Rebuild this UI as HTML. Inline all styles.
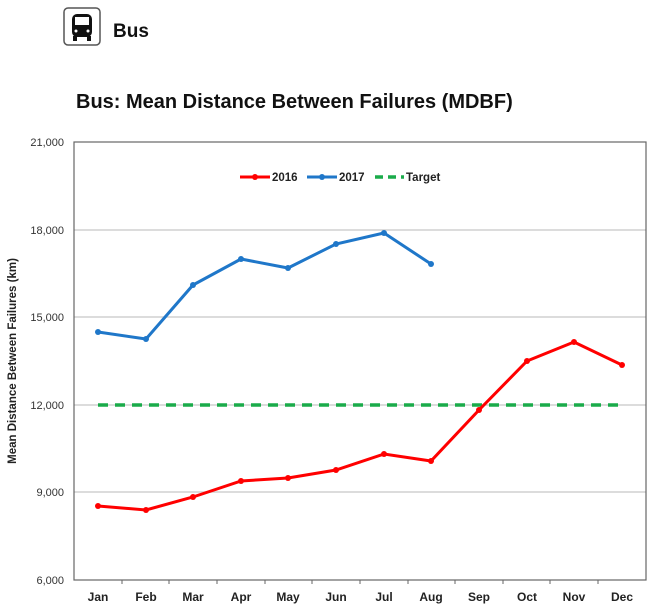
<!DOCTYPE html>
<html><head><style>
body{margin:0;background:#fff;width:654px;height:611px;overflow:hidden;font-family:"Liberation Sans",Arial,sans-serif}
</style></head><body>
<svg width="654" height="611" xmlns="http://www.w3.org/2000/svg" font-family="Liberation Sans, Arial, sans-serif">
<rect x="64" y="8" width="36" height="37" rx="4" fill="#fff" stroke="#555" stroke-width="1.5"/>
<rect x="72" y="14" width="20" height="23" rx="5" fill="#111"/>
<rect x="75" y="17" width="14" height="8" fill="#fff"/>
<circle cx="76" cy="31" r="1.5" fill="#fff"/><circle cx="88" cy="31" r="1.5" fill="#fff"/>
<rect x="73" y="36" width="4" height="5" fill="#111"/><rect x="87" y="36" width="4" height="5" fill="#111"/>
<text x="113" y="37" font-size="19" font-weight="bold" fill="#111">Bus</text>
<text x="76" y="108" font-size="20" font-weight="bold" fill="#111">Bus: Mean Distance Between Failures (MDBF)</text>
<g stroke="#d0d0d0" stroke-width="1.5">
<line x1="74" y1="230" x2="646" y2="230"/><line x1="74" y1="317" x2="646" y2="317"/>
<line x1="74" y1="405" x2="646" y2="405"/><line x1="74" y1="492" x2="646" y2="492"/>
</g>
<rect x="74" y="142" width="572" height="438" fill="none" stroke="#666" stroke-width="1.2"/>
<g stroke="#666"><line x1="122" y1="580" x2="122" y2="584"/><line x1="169" y1="580" x2="169" y2="584"/><line x1="217" y1="580" x2="217" y2="584"/><line x1="265" y1="580" x2="265" y2="584"/><line x1="312" y1="580" x2="312" y2="584"/><line x1="360" y1="580" x2="360" y2="584"/><line x1="408" y1="580" x2="408" y2="584"/><line x1="455" y1="580" x2="455" y2="584"/><line x1="503" y1="580" x2="503" y2="584"/><line x1="550" y1="580" x2="550" y2="584"/><line x1="598" y1="580" x2="598" y2="584"/></g>
<g font-size="11" fill="#333" text-anchor="end">
<text x="64" y="146">21,000</text><text x="64" y="234">18,000</text><text x="64" y="321">15,000</text>
<text x="64" y="409">12,000</text><text x="64" y="496">9,000</text><text x="64" y="584">6,000</text>
</g>
<g font-size="12" font-weight="bold" fill="#222" text-anchor="middle">
<text x="98" y="601">Jan</text><text x="146" y="601">Feb</text><text x="193" y="601">Mar</text><text x="241" y="601">Apr</text><text x="288" y="601">May</text><text x="336" y="601">Jun</text><text x="384" y="601">Jul</text><text x="431" y="601">Aug</text><text x="479" y="601">Sep</text><text x="527" y="601">Oct</text><text x="574" y="601">Nov</text><text x="622" y="601">Dec</text>
</g>
<text transform="translate(16,361) rotate(-90)" font-size="11.5" font-weight="bold" fill="#222" text-anchor="middle">Mean Distance Between Failures (km)</text>
<line x1="98" y1="405" x2="622" y2="405" stroke="#1aab4a" stroke-width="3.5" stroke-dasharray="10,7"/>
<polyline fill="none" stroke="#f00" stroke-width="3" points="98,506 146,510 193,497 241,481 288,478 336,470 384,454 431,461 479,410 527,361 574,342 622,365"/>
<g fill="#f00"><circle cx="98" cy="506" r="3"/><circle cx="146" cy="510" r="3"/><circle cx="193" cy="497" r="3"/><circle cx="241" cy="481" r="3"/><circle cx="288" cy="478" r="3"/><circle cx="336" cy="470" r="3"/><circle cx="384" cy="454" r="3"/><circle cx="431" cy="461" r="3"/><circle cx="479" cy="410" r="3"/><circle cx="527" cy="361" r="3"/><circle cx="574" cy="342" r="3"/><circle cx="622" cy="365" r="3"/></g>
<polyline fill="none" stroke="#1f77c9" stroke-width="3" points="98,332 146,339 193,285 241,259 288,268 336,244 384,233 431,264"/>
<g fill="#1f77c9"><circle cx="98" cy="332" r="3"/><circle cx="146" cy="339" r="3"/><circle cx="193" cy="285" r="3"/><circle cx="241" cy="259" r="3"/><circle cx="288" cy="268" r="3"/><circle cx="336" cy="244" r="3"/><circle cx="384" cy="233" r="3"/><circle cx="431" cy="264" r="3"/></g>
<line x1="240" y1="177" x2="270" y2="177" stroke="#f00" stroke-width="3"/><circle cx="255" cy="177" r="3" fill="#f00"/>
<text x="272" y="181" font-size="11.5" font-weight="bold" fill="#222">2016</text>
<line x1="307" y1="177" x2="337" y2="177" stroke="#1f77c9" stroke-width="3"/><circle cx="322" cy="177" r="3" fill="#1f77c9"/>
<text x="339" y="181" font-size="11.5" font-weight="bold" fill="#222">2017</text>
<line x1="375" y1="177" x2="404" y2="177" stroke="#1aab4a" stroke-width="3.5" stroke-dasharray="8,5"/>
<text x="406" y="181" font-size="11.5" font-weight="bold" fill="#222">Target</text>
</svg>
</body></html>
